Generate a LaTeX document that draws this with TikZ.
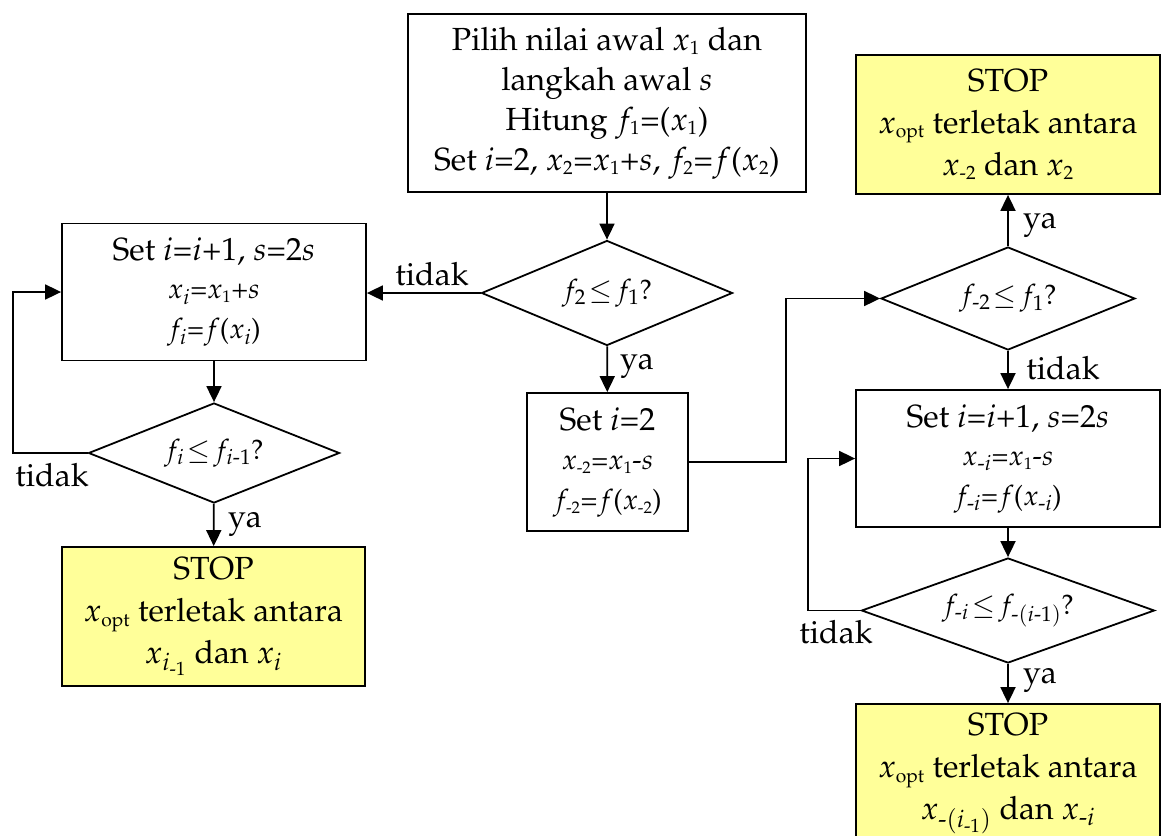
\documentclass[tikz,border=0pt]{standalone}
\usepackage[T1]{fontenc}
\usepackage{mathpazo}
\usepackage{amsmath}
\usetikzlibrary{arrows.meta,shapes.geometric}
\definecolor{stopfill}{RGB}{255,255,153}
\newcommand{\mhy}{\text{-}}
\newcommand{\tsub}[1]{{\scriptscriptstyle #1}}
\begin{document}
\begin{tikzpicture}[x=1pt,y=-1pt,
  line width=1.8pt,
  base/.style={draw=black,line width=1.8pt,align=center,inner sep=0pt,
    font=\fontsize{32}{40}\selectfont},
  procbox/.style={base,rectangle},
  stopbox/.style={base,rectangle,fill=stopfill,font=\fontsize{32}{42}\selectfont},
  decision/.style={base,diamond,font=\fontsize{28}{32}\selectfont},
  lbl/.style={font=\fontsize{32}{36}\selectfont,inner sep=0pt},
  arr/.style={-{Triangle[length=16pt,width=15pt]},line width=1.8pt}]
\useasboundingbox (0,0) rectangle (1163,836);

% nodes
\node[procbox,minimum width=398,minimum height=178] (top) at (607,103)
  {Pilih nilai awal $x_\tsub{1}$ dan\\ langkah awal $s$\\ Hitung $f_\tsub{1}$=($x_\tsub{1}$)\\
   Set $i$=2, $x_\tsub{2}$=$x_\tsub{1}$+$s$, $f_\tsub{2}$=$f$($x_\tsub{2}$)};
\node[decision,minimum width=251,minimum height=105,aspect=2.4] (d1) at (607,293)
  {$f_2\!\le\! f_1$?};
\node[procbox,minimum width=304,minimum height=137] (A) at (214,292)
  {Set $i$=$i$+1, $s$=2$s$\\[-2pt] {\fontsize{28}{38}\selectfont $x_i$=$x_\tsub{1}$+$s$}\\
   {\fontsize{28}{38}\selectfont $f_i$=$f$($x_i$)}};
\node[decision,minimum width=251,minimum height=100,aspect=2.4] (d2) at (214,453)
  {$f_i\!\le\! f_{i\mhy 1}$?};
\node[stopbox,minimum width=303,minimum height=139] (SL) at (213.5,616.5)
  {STOP\\ $x_\tsub{\mathrm{opt}}$ terletak antara\\ $x_{i_{\mhy 1}}$ dan $x_i$};
\node[procbox,minimum width=161,minimum height=138] (B) at (607.5,462)
  {Set $i$=2\\[-1pt] {\fontsize{28}{38}\selectfont $x_\tsub{\mhy 2}$=$x_\tsub{1}$-$s$}\\
   {\fontsize{28}{38}\selectfont $f_\tsub{\mhy 2}$=$f$($x_\tsub{\mhy 2}$)}};
\node[decision,minimum width=254,minimum height=103,aspect=2.4] (d3) at (1008,298.5)
  {$f_{\mhy 2}\!\le\! f_1$?};
\node[stopbox,minimum width=304,minimum height=139] (STR) at (1008,124.5)
  {STOP\\ $x_\tsub{\mathrm{opt}}$ terletak antara\\ $x_\tsub{\mhy 2}$ dan $x_\tsub{2}$};
\node[procbox,minimum width=304,minimum height=137] (C) at (1008,458.5)
  {Set $i$=$i$+1, $s$=2$s$\\[-2pt] {\fontsize{28}{38}\selectfont $x_{\mhy i}$=$x_\tsub{1}$-$s$}\\
   {\fontsize{28}{38}\selectfont $f_{\mhy i}$=$f$($x_{\mhy i}$)}};
\node[decision,minimum width=293,minimum height=105,aspect=2.9] (d4) at (1008,610.5)
  {$f_{\mhy i}\!\le\! f_{\mhy (i\mhy 1)}$?};
\node[stopbox,minimum width=304,minimum height=139] (SBR) at (1008,773.5)
  {STOP\\ $x_\tsub{\mathrm{opt}}$ terletak antara\\ $x_{\mhy (i_{\mhy 1})}$ dan $x_{\mhy i}$};

% connectors
\draw[arr] (top) -- (d1);
\draw[arr] (d1.west) -- (d1.west -| A.east);
\draw[arr] (A) -- (d2);
\coordinate (lloop) at (13,453);
\draw[arr] (d2.west) -- (lloop) |- (A.west);
\draw[arr] (d2) -- (SL);
\draw[arr] (d1) -- (B);
\coordinate (mid) at (786,462);
\draw[arr] (B.east) -- (mid) |- (d3.west);
\draw[arr] (d3) -- (STR);
\draw[arr] (d3) -- (C);
\draw[arr] (C) -- (d4);
\coordinate (rloop) at (808,610.5);
\draw[arr] (d4.west) -- (rloop) |- (C.west);
\draw[arr] (d4) -- (SBR);

% labels
\node[lbl] (t1) at (432,274) {tidak};
\node[lbl] (y1) at (637,366) {ya};
\node[lbl] (t2) at (52,475) {tidak};
\node[lbl] (y2) at (245,524) {ya};
\node[lbl] (y3) at (1040,225) {ya};
\node[lbl] (t3) at (1063,368) {tidak};
\node[lbl] (t4) at (836,632) {tidak};
\node[lbl] (y4) at (1040,680) {ya};
\end{tikzpicture}
\end{document}
